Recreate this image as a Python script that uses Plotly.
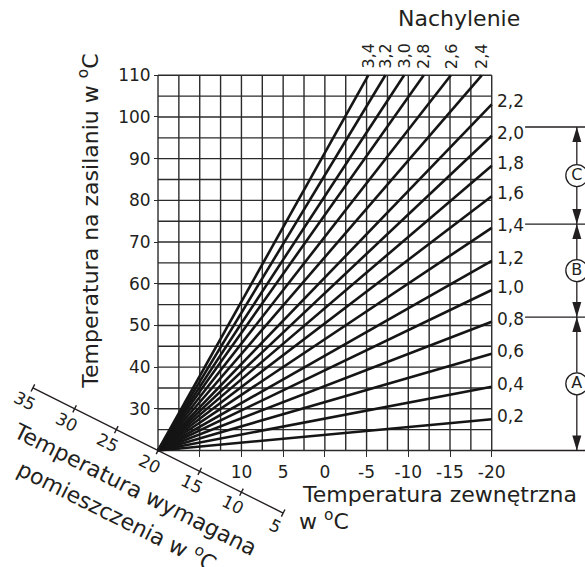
import numpy as np
import plotly.graph_objects as go

# ---------------- data ----------------
room_setpoint = 20                      # all curves start at (20 °C outside, 20 °C flow)
slopes_right = ["0,2", "0,4", "0,6", "0,8", "1,0", "1,2", "1,4", "1,6", "1,8", "2,0", "2,2"]
flow_at_minus20 = [27.5, 35.3, 43.2, 50.9, 58.5, 65.5, 73.4, 81.0, 88.3, 95.5, 103.0]
slopes_top = ["2,4", "2,6", "2,8", "3,0", "3,2", "3,4"]
outside_at_110 = [-18.8, -15.1, -11.85, -9.5, -7.25, -5.2]

x_tickvals = [15, 10, 5, 0, -5, -10, -15, -20]
x_ticktext = ["", "10", "5", "0", "-5", "-10", "-15", "-20"]
y_tickvals = [30, 40, 50, 60, 70, 80, 90, 100, 110]
room_ticks = [35, 30, 25, 20, 15, 10, 5]
zone_letters = ["A", "B", "C"]
zone_levels = [20, 52.0, 74.3, 97.6]

# ---------------- style ----------------
FONT = "DejaVu Sans"
INK = "#231f20"
GRID = "#2b2b2b"
X_MIN, X_MAX = 20, -20          # outside temperature span of the grid
Y_MIN, Y_MAX = 20, 110          # flow temperature span of the grid
XR = [38.94, -31.18]            # full page range (reversed axis)
YR = [-7.945, 128.06]
BRACKET_X = -30.2
ZONE_LINE_X0 = -24.0

fig = go.Figure()

# grid
gx, gy = [], []
for xv in np.arange(X_MIN, X_MAX - 0.01, -2.5):
    gx += [xv, xv, None]
    gy += [Y_MIN, Y_MAX, None]
for yv in np.arange(Y_MIN, Y_MAX + 0.01, 5):
    gx += [X_MIN, X_MAX, None]
    gy += [yv, yv, None]
fig.add_trace(go.Scatter(x=gx, y=gy, mode="lines", line=dict(color=GRID, width=1.4),
                         hoverinfo="skip"))

# heating curves ending at right edge
for lab, yend in zip(slopes_right, flow_at_minus20):
    fig.add_trace(go.Scatter(x=[room_setpoint, X_MAX], y=[room_setpoint, yend], mode="lines",
                             line=dict(color="#151515", width=2.6), name=lab))
    fig.add_annotation(x=X_MAX, y=yend, text=lab, showarrow=False, xanchor="left",
                       yanchor="middle", xshift=3, yshift=3,
                       font=dict(family=FONT, size=17, color=INK))

# heating curves ending at top edge
for lab, xend in zip(slopes_top, outside_at_110):
    fig.add_trace(go.Scatter(x=[room_setpoint, xend], y=[room_setpoint, Y_MAX], mode="lines",
                             line=dict(color="#151515", width=2.6), name=lab))
    fig.add_annotation(x=xend, y=Y_MAX, text=lab, showarrow=False, textangle=-90,
                       xanchor="center", yanchor="middle", yshift=19,
                       font=dict(family=FONT, size=16, color=INK))

# room temperature (diagonal) axis: line x = y
fig.add_trace(go.Scatter(x=[room_ticks[0], room_ticks[-1]], y=[room_ticks[0], room_ticks[-1]],
                         mode="lines", line=dict(color=INK, width=1.4), hoverinfo="skip"))
tx, ty = [], []
for r in room_ticks:
    tx += [r + 0.214, r - 0.214, None]
    ty += [r - 0.858, r + 0.858, None]
    fig.add_annotation(x=r, y=r, text=str(r), showarrow=False, textangle=26.6,
                       xanchor="center", yanchor="middle", xshift=-8, yshift=-13,
                       font=dict(family=FONT, size=17, color=INK))
fig.add_trace(go.Scatter(x=tx, y=ty, mode="lines", line=dict(color=INK, width=1.4),
                         hoverinfo="skip"))

# zone bracket on the right
zx, zy = [], []
for lv in zone_levels[1:]:
    zx += [ZONE_LINE_X0, XR[1], None]
    zy += [lv, lv, None]
zx += [X_MAX, XR[1], None]
zy += [zone_levels[0], zone_levels[0], None]
zx += [BRACKET_X, BRACKET_X, None]
zy += [zone_levels[0], zone_levels[-1], None]
fig.add_trace(go.Scatter(x=zx, y=zy, mode="lines", line=dict(color=INK, width=1.3),
                         hoverinfo="skip"))
for i, letter in enumerate(zone_letters):
    lo, hi = zone_levels[i], zone_levels[i + 1]
    fig.add_shape(type="path", xref="x", yref="y", xsizemode="pixel", ysizemode="pixel",
                  xanchor=BRACKET_X, yanchor=hi, path="M0,0 L-4.5,-15 L4.5,-15 Z",
                  fillcolor=INK, line=dict(width=0))
    fig.add_shape(type="path", xref="x", yref="y", xsizemode="pixel", ysizemode="pixel",
                  xanchor=BRACKET_X, yanchor=lo, path="M0,0 L-4.5,15 L4.5,15 Z",
                  fillcolor=INK, line=dict(width=0))
    fig.add_trace(go.Scatter(x=[BRACKET_X], y=[(lo + hi) / 2], mode="markers+text",
                             text=[letter], textposition="middle center",
                             textfont=dict(family=FONT, size=16, color=INK),
                             marker=dict(size=22, color="white", line=dict(color=INK, width=1.3)),
                             cliponaxis=False, hoverinfo="skip"))

# titles
fig.add_annotation(x=28.39, y=74.9, text="Temperatura na zasilaniu w <sup>o</sup>C",
                   textangle=-90, showarrow=False, xanchor="center", yanchor="middle",
                   font=dict(family=FONT, size=22, color=INK))
fig.add_annotation(x=-16.1, y=123.7, text="Nachylenie", showarrow=False,
                   xanchor="center", yanchor="middle", font=dict(family=FONT, size=22, color=INK))
fig.add_annotation(x=3.0, y=Y_MIN, text="Temperatura zewnętrzna", showarrow=False,
                   xanchor="left", yanchor="middle", yshift=-44,
                   font=dict(family=FONT, size=22, color=INK))
fig.add_annotation(x=3.3, y=Y_MIN, text="w <sup>o</sup>C", showarrow=False,
                   xanchor="left", yanchor="middle", yshift=-69,
                   font=dict(family=FONT, size=22, color=INK))
fig.add_annotation(x=room_setpoint, y=room_setpoint, text="Temperatura wymagana",
                   showarrow=False, textangle=26.6, xanchor="center", yanchor="middle",
                   xshift=-23, yshift=-38.5, font=dict(family=FONT, size=22, color=INK))
fig.add_annotation(x=room_setpoint, y=room_setpoint, text="pomieszczenia w <sup>o</sup>C",
                   showarrow=False, textangle=26.6, xanchor="center", yanchor="middle",
                   xshift=-40.5, yshift=-64.5, font=dict(family=FONT, size=22, color=INK))

fig.update_layout(
    width=585, height=567, margin=dict(l=0, r=0, t=0, b=0),
    paper_bgcolor="white", plot_bgcolor="white", showlegend=False,
    xaxis=dict(range=XR, showgrid=False, zeroline=False, showline=False,
               anchor="free", position=0.20547, tickvals=x_tickvals, ticktext=x_ticktext,
               ticks="outside", ticklen=6, tickwidth=1.4, tickcolor=GRID,
               tickfont=dict(family=FONT, size=17, color=INK)),
    yaxis=dict(range=YR, showgrid=False, zeroline=False, showline=False,
               anchor="free", position=0.27009, tickvals=y_tickvals,
               ticks="outside", ticklen=4, tickwidth=1.4, tickcolor=GRID,
               tickfont=dict(family=FONT, size=17, color=INK)),
)

fig.write_html("out.html", config={"displayModeBar": False},
               post_script="document.body.style.margin='0';document.body.style.overflow='hidden';")
